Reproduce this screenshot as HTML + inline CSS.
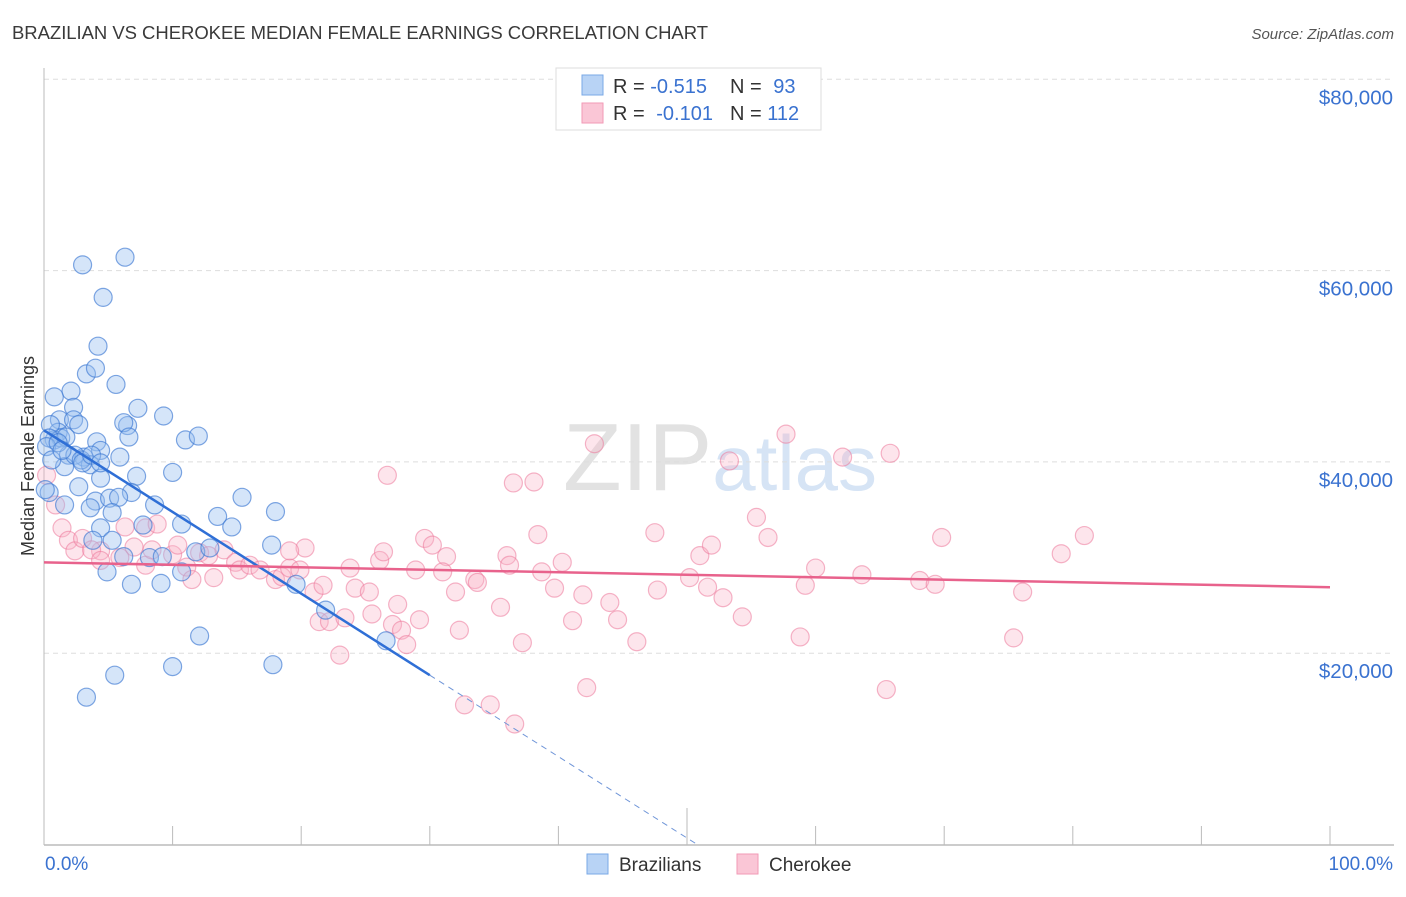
<!DOCTYPE html>
<html><head><meta charset="utf-8"><style>
body{margin:0;background:#fff;font-family:"Liberation Sans",sans-serif;}
svg text{font-family:"Liberation Sans",sans-serif;}
</style></head><body>
<svg id="chart" width="1406" height="892" xmlns="http://www.w3.org/2000/svg">
<text x="12" y="39" font-size="18.5" fill="#3a3a3a" textLength="696">BRAZILIAN VS CHEROKEE MEDIAN FEMALE EARNINGS CORRELATION CHART</text>
<text x="1394" y="39" font-size="15" fill="#555" font-style="italic" text-anchor="end">Source: ZipAtlas.com</text>
<text x="720" y="490" font-size="96" fill="#e4e4e4" text-anchor="middle" font-family="Liberation Serif"><tspan fill="#e2e2e2">ZIP</tspan><tspan font-family="Liberation Sans" fill="#d6e4f5" font-size="78">atlas</tspan></text>
<text transform="translate(34,456) rotate(-90)" font-size="18" fill="#333" text-anchor="middle">Median Female Earnings</text>
<g id="grid"></g>
<g id="pts"></g>
<g id="lines"></g>
<g>
<rect x="556" y="68" width="265" height="62" fill="#fff" stroke="#ddd"/>
<rect x="582" y="75" width="21" height="20" fill="#b8d3f5" stroke="#7aa8e6"/>
<rect x="582" y="103" width="21" height="20" fill="#fac6d6" stroke="#f29ab6"/>
<text x="613" y="93" font-size="20" fill="#333">R = <tspan fill="#3a72d0">-0.515</tspan></text>
<text x="730" y="93" font-size="20" fill="#333">N = <tspan fill="#3a72d0" dx="6">93</tspan></text>
<text x="613" y="120" font-size="20" fill="#333">R = <tspan fill="#3a72d0" dx="6">-0.101</tspan></text>
<text x="730" y="120" font-size="20" fill="#333">N = <tspan fill="#3a72d0">112</tspan></text>
</g>
<g>
<rect x="587" y="854" width="21" height="20" fill="#b8d3f5" stroke="#7aa8e6"/>
<text x="619" y="871" font-size="19" fill="#333">Brazilians</text>
<rect x="737" y="854" width="21" height="20" fill="#fac6d6" stroke="#f29ab6"/>
<text x="769" y="871" font-size="19" fill="#333">Cherokee</text>
</g>
<text x="45" y="870" font-size="19" fill="#3a72d0">0.0%</text>
<text x="1393" y="870" font-size="19" fill="#3a72d0" text-anchor="end">100.0%</text>
</svg>
<script>
const yTicks=[20000,40000,60000,80000];
const yTickLabels=["$20,000","$40,000","$60,000","$80,000"];
const xTicks=[0,10,20,30,40,50,60,70,80,90,100];
const blueX=[3.0,6.3,4.6,4.2,3.3,4.0,5.6,2.1,0.8,2.3,1.2,2.3,2.7,1.1,0.8,7.3,9.3,6.5,6.2,6.6,11.0,12.0,10.0,4.1,4.4,1.3,1.9,3.1,3.6,1.6,5.9,7.2,2.7,4.4,15.4,6.8,4.0,3.6,5.1,5.8,5.3,8.6,13.5,14.6,18.0,10.7,7.7,4.4,1.6,0.4,5.3,3.8,6.2,8.2,9.2,11.8,12.9,10.7,4.9,6.8,9.1,17.7,19.6,21.9,26.6,12.1,10.0,17.8,5.5,3.3,0.5,0.4,1.7,0.2,1.1,2.4,2.9,0.6,1.4,3.0,3.7,4.4,0.1];
const blueY=[60.6,61.4,57.2,52.1,49.2,49.8,48.1,47.4,46.8,45.7,44.4,44.4,43.9,43.1,42.3,45.6,44.8,43.8,44.1,42.6,42.3,42.7,38.9,42.1,41.2,42.5,40.7,40.5,39.7,39.5,40.5,38.5,37.4,38.3,36.3,36.8,35.9,35.2,36.2,36.3,34.7,35.5,34.3,33.2,34.8,33.5,33.4,33.1,35.5,36.8,31.8,31.8,30.1,30.0,30.1,30.6,31.0,28.5,28.5,27.2,27.3,31.3,27.2,24.5,21.3,21.8,18.6,18.8,17.7,15.4,43.9,42.5,42.6,41.6,42.0,40.7,40.2,40.2,41.2,39.9,40.7,39.9,37.1];
const pinkX=[0.2,0.9,1.4,1.9,2.4,3.0,4.4,3.7,4.4,6.3,7.9,8.8,7.0,5.9,7.9,8.4,10.0,10.4,11.1,11.5,12.1,13.2,12.8,14.0,14.9,15.2,16.0,16.8,18.0,18.5,19.1,19.9,20.3,19.1,21.0,21.7,21.4,22.2,23.0,23.4,23.8,24.2,25.3,25.5,26.1,26.4,27.1,27.5,27.8,28.2,28.9,29.2,29.6,30.2,31.3,31.0,32.0,32.3,32.7,33.5,33.7,35.5,36.0,36.2,36.5,38.1,38.4,38.7,37.2,39.7,40.3,41.1,41.9,42.2,44.0,44.6,42.8,46.1,47.5,47.7,50.2,51.6,51.0,51.9,52.8,53.3,54.3,55.4,56.3,57.7,58.8,60.0,59.2,62.1,63.6,65.5,65.8,68.1,69.3,69.8,75.4,76.1,79.1,80.9,36.6,34.7,26.7];
const pinkY=[38.6,35.5,33.1,31.8,30.7,32.0,30.7,30.8,29.7,33.2,33.1,33.5,31.1,30.0,29.2,30.8,30.3,31.3,29.0,27.7,30.5,27.9,30.2,30.8,29.5,28.7,29.2,28.7,27.7,28.0,28.9,28.7,31.0,30.7,26.4,27.1,23.3,23.3,19.8,23.7,28.9,26.8,26.4,24.1,29.7,30.6,23.0,25.1,22.4,20.9,28.7,23.5,32.0,31.3,30.1,28.5,26.4,22.4,14.6,27.7,27.4,24.8,30.2,29.2,37.8,37.9,32.4,28.5,21.1,26.8,29.5,23.4,26.1,16.4,25.3,23.5,41.9,21.2,32.6,26.6,27.9,26.9,30.2,31.3,25.8,40.1,23.8,34.2,32.1,42.9,21.7,28.9,27.1,40.5,28.2,16.2,40.9,27.6,27.2,32.1,21.6,26.4,30.4,32.3,12.6,14.6,38.6];
const blueTrend=[[0,43.3],[30,17.7]];
const blueTrendExt=[[30,17.7],[50.8,0]];
const pinkTrend=[[0,29.5],[100,26.9]];
const NS="http://www.w3.org/2000/svg";
function sx(v){return 44+v*12.86;}
function sy(k){return 844.5-k*9.565;}
function mk(tag,attrs,parent){const e=document.createElementNS(NS,tag);for(const k in attrs)e.setAttribute(k,attrs[k]);parent.appendChild(e);return e;}
const grid=document.getElementById('grid');
yTicks.forEach((t,i)=>{
 const l=mk('line',{x1:44,x2:1394,y1:sy(t/1000),y2:sy(t/1000),stroke:'#ddd','stroke-dasharray':'5,4'},grid);
 
 
 const tx=mk('text',{x:1393,y:sy(t/1000)+25,'text-anchor':'end','font-size':20.5,fill:'#3a72d0'},grid);
 tx.textContent=yTickLabels[i];
 
 
});
const ya=mk('line',{x1:44,x2:44,y1:68,y2:845,stroke:'#bbb'},grid);


const xa=mk('line',{x1:44,x2:1394,y1:845,y2:845,stroke:'#bbb','stroke-width':1.5},grid);


xTicks.forEach(t=>{
 const l=mk('line',{x1:sx(t),x2:sx(t),y1:t===50?808:826,y2:845,stroke:'#bbb'},grid);
 
 
});
const pts=document.getElementById('pts');
pinkX.forEach((x,i)=>{
 const c=mk('circle',{cx:sx(x),cy:sy(pinkY[i]),r:9,fill:'rgba(248,180,200,0.35)',stroke:'rgba(236,120,155,0.55)','stroke-width':1.2},pts);
 
 
});
blueX.forEach((x,i)=>{
 const c=mk('circle',{cx:sx(x),cy:sy(blueY[i]),r:9,fill:'rgba(150,190,240,0.4)',stroke:'rgba(60,120,210,0.65)','stroke-width':1.2},pts);
 
 
});
const lines=document.getElementById('lines');
const b=mk('line',{x1:sx(blueTrend[0][0]),y1:sy(blueTrend[0][1]),x2:sx(blueTrend[1][0]),y2:sy(blueTrend[1][1]),stroke:'#2f6fd6','stroke-width':2.5},lines);


const be=mk('line',{x1:sx(blueTrendExt[0][0]),y1:sy(blueTrendExt[0][1]),x2:sx(blueTrendExt[1][0]),y2:sy(blueTrendExt[1][1]),stroke:'#6f95d8','stroke-width':1,'stroke-dasharray':'6,5'},lines);


const p=mk('line',{x1:sx(pinkTrend[0][0]),y1:sy(pinkTrend[0][1]),x2:sx(pinkTrend[1][0]),y2:sy(pinkTrend[1][1]),stroke:'#e8628c','stroke-width':2.5},lines);


</script>
</body></html>
